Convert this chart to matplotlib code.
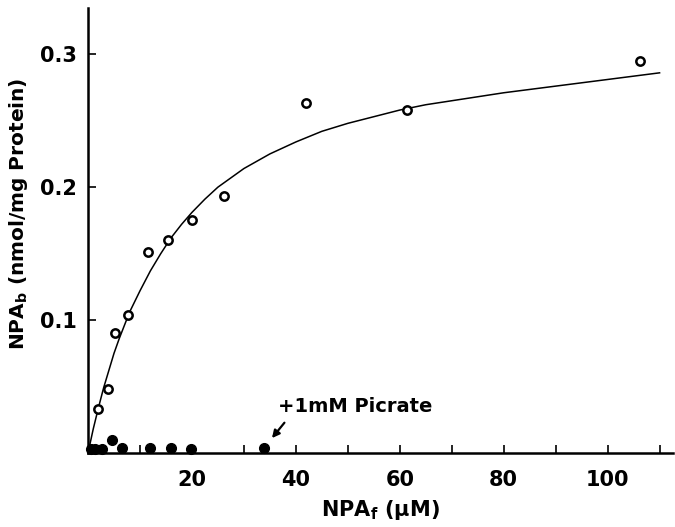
import matplotlib
matplotlib.use("Agg")
import matplotlib.pyplot as plt

# open circles: NPA binding, control
free_conc = [2.0, 3.9, 5.2, 7.6, 11.5, 15.3, 20.0, 26.2, 41.9, 61.4, 106.3]
bound = [0.033, 0.048, 0.090, 0.104, 0.151, 0.160, 0.175, 0.193, 0.263, 0.258, 0.295]

# filled circles: + 1 mM picrate
picrate_conc = [0.5, 1.3, 2.7, 4.7, 6.5, 12.0, 15.9, 19.9, 33.9]
picrate_bound = [0.003, 0.003, 0.003, 0.010, 0.004, 0.004, 0.004, 0.003, 0.004]

# saturation curve as drawn in the figure
curve_x = [0, 1, 2, 3, 4, 5, 6, 7, 8, 9, 10, 12, 14, 16, 18, 20, 22.5, 25, 27.5,
           30, 35, 40, 45, 50, 55, 60, 65, 70, 75, 80, 90, 100, 110]
curve_y = [0, 0.018, 0.034, 0.049, 0.062, 0.075, 0.086, 0.096, 0.106, 0.114,
           0.122, 0.137, 0.150, 0.162, 0.172, 0.181, 0.191, 0.200, 0.207,
           0.214, 0.225, 0.234, 0.242, 0.248, 0.253, 0.258, 0.262, 0.265,
           0.268, 0.271, 0.276, 0.281, 0.286]

x_ticks = [20, 40, 60, 80, 100]
y_ticks = [0.1, 0.2, 0.3]


def main():
    plt.rcParams["font.family"] = ["DejaVu Sans"]
    plt.rcParams["font.weight"] = "bold"

    fig = plt.figure(figsize=(6.75, 5.27), dpi=100)
    ax = fig.add_axes([0.1304, 0.1404, 0.866, 0.845])

    ax.plot(curve_x, curve_y, color="black", linewidth=1.1)
    ax.plot(free_conc, bound, linestyle="none", marker="o", markersize=6,
            markerfacecolor="white", markeredgecolor="black", markeredgewidth=1.8,
            clip_on=False, zorder=3)
    ax.plot(picrate_conc, picrate_bound, linestyle="none", marker="o", markersize=7,
            color="black", clip_on=False, zorder=3)

    ax.text(36.5, 0.035, "+1mM Picrate", fontsize=14, fontweight="bold",
            va="center", ha="left")
    ax.annotate("", xy=(35.4, 0.0112), xytext=(37.8, 0.0228),
                arrowprops=dict(arrowstyle="-|>", color="black", lw=1.6,
                                shrinkA=0, shrinkB=0, mutation_scale=11),
                annotation_clip=False)

    ax.set_xlim(0, 112.5)
    ax.set_ylim(0, 0.335)

    ax.spines["top"].set_visible(False)
    ax.spines["right"].set_visible(False)
    ax.spines["left"].set_linewidth(1.8)
    ax.spines["bottom"].set_linewidth(1.8)

    ax.set_xticks(x_ticks)
    ax.set_xticklabels([str(t) for t in x_ticks])
    ax.set_xticks(list(range(10, 111, 20)), minor=True)
    ax.set_yticks(y_ticks)
    ax.set_yticklabels(["0.1", "0.2", "0.3"])

    ax.tick_params(axis="x", direction="in", length=6, width=1.2, labelsize=15, pad=12)
    ax.tick_params(axis="x", which="minor", direction="in", length=6, width=1.2)
    ax.tick_params(axis="y", direction="in", length=6, width=1.2, labelsize=15, pad=8)

    ax.set_xlabel(r"NPA$_\mathbf{f}$ ($\mathbf{\mu}$M)", fontsize=15, fontweight="bold",
                  labelpad=6)
    ax.set_ylabel(r"NPA$_\mathbf{b}$ (nmol/mg Protein)", fontsize=14.5, fontweight="bold")
    ax.yaxis.set_label_coords(-0.1, 0.537)

    fig.savefig("out.png", dpi=100)
    plt.close(fig)


if __name__ == "__main__":
    main()
